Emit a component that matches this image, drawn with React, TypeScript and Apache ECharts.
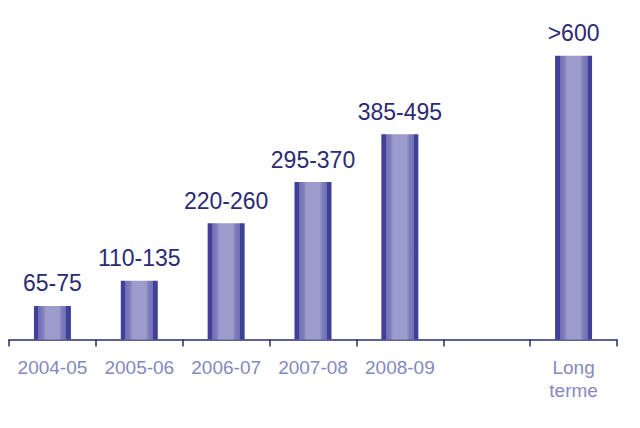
import React, { useEffect, useRef } from "react";
import * as echarts from "echarts";

const categories = ["2004-05", "2005-06", "2006-07", "2007-08", "2008-09", "", "Long\nterme"];
const values: (number | null)[] = [71, 124, 246, 333, 434, null, 600];
const rangeLabels = ["65-75", "110-135", "220-260", "295-370", "385-495", "", ">600"];

export default function App() {
  const ref = useRef<HTMLDivElement>(null);
  useEffect(() => {
    if (!ref.current) return;
    const chart = echarts.init(ref.current, undefined, { renderer: "svg" });
    const grad = new echarts.graphic.LinearGradient(0, 0, 1, 0, [
      { offset: 0, color: "#40409a" },
      { offset: 0.12, color: "#40409a" },
      { offset: 0.12, color: "#6e6eb3" },
      { offset: 0.25, color: "#7f7fbd" },
      { offset: 0.32, color: "#9c9ccd" },
      { offset: 0.68, color: "#9c9ccd" },
      { offset: 0.75, color: "#7f7fbd" },
      { offset: 0.88, color: "#6e6eb3" },
      { offset: 0.88, color: "#40409a" },
      { offset: 1, color: "#40409a" },
    ]);
    chart.setOption({
      animation: false,
      grid: { left: 9, right: 23, top: 8.5, bottom: 88.5 },
      xAxis: {
        type: "category",
        data: categories,
        boundaryGap: true,
        axisLine: { show: true, lineStyle: { color: "#2b2b6e", width: 1.5 } },
        axisTick: { show: true, length: 7, interval: 0, lineStyle: { color: "#2b2b6e", width: 1.5 } },
        axisLabel: {
          color: "#8787bf",
          fontSize: 19,
          fontFamily: "Liberation Sans, Arial, sans-serif",
          margin: 16,
          lineHeight: 23,
          interval: 0,
        },
      },
      yAxis: {
        type: "value",
        min: 0,
        max: 700,
        show: false,
        splitLine: { show: false },
      },
      series: [
        {
          type: "bar",
          data: values.map((v, i) => ({ value: v, labelText: rangeLabels[i] })),
          barWidth: 37,
          itemStyle: { color: grad },
          label: {
            show: true,
            position: "top",
            distance: 11,
            color: "#2b2b72",
            fontSize: 23,
            fontFamily: "Liberation Sans, Arial, sans-serif",
            formatter: (p: any) => rangeLabels[p.dataIndex],
          },
        },
      ],
    });
    return () => chart.dispose();
  }, []);
  return (
    <div
      ref={ref}
      style={{ position: "fixed", left: 0, top: 0, width: 640, height: 428, background: "#ffffff" }}
    />
  );
}
